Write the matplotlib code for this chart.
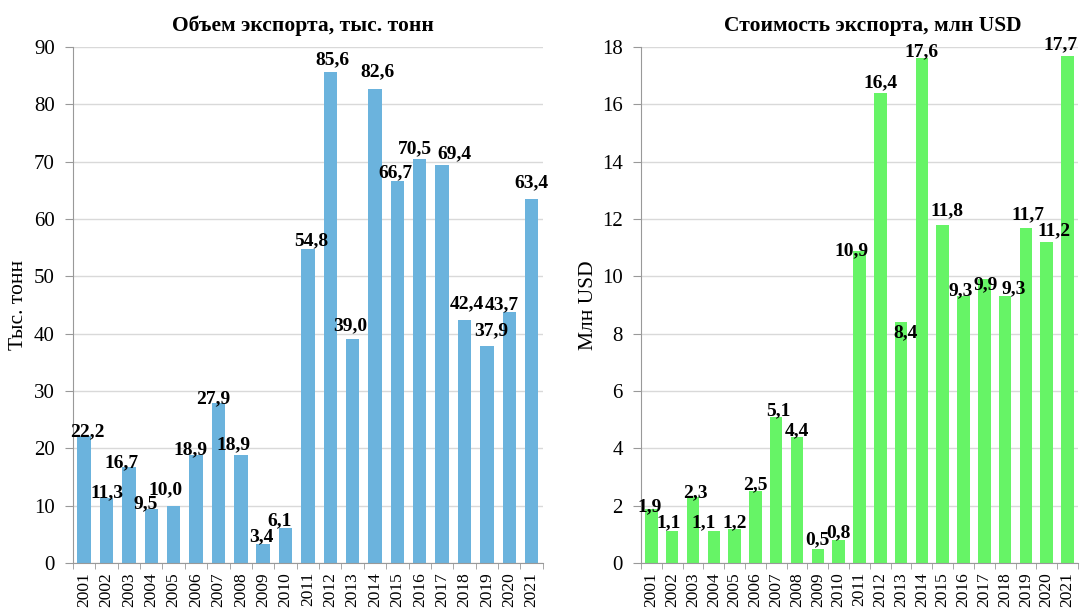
import matplotlib
matplotlib.use('Agg')
import matplotlib.pyplot as plt
import numpy as np

plt.rcParams['font.family'] = ['Liberation Serif', 'DejaVu Serif']

years = [str(y) for y in range(2001, 2022)]
volume = [22.2, 11.3, 16.7, 9.5, 10.0, 18.9, 27.9, 18.9, 3.4, 6.1, 54.8,
          85.6, 39.0, 82.6, 66.7, 70.5, 69.4, 42.4, 37.9, 43.7, 63.4]
value = [1.9, 1.1, 2.3, 1.1, 1.2, 2.5, 5.1, 4.4, 0.5, 0.8, 10.9,
         16.4, 8.4, 17.6, 11.8, 9.3, 9.9, 9.3, 11.7, 11.2, 17.7]

# label nudges in pixels (dx, dy), like excel put them
volume_nudge = [(3, 0), (0, 1), (-7, 0), (-6, 0), (-8, 11), (-6, 0), (-5, 0),
                (-7, 5), (-2, 2), (-6, 3), (3, 4), (2, 8), (-2, 9), (2, 13),
                (-2, 3), (-5, 6), (12, 7), (2, 12), (4, 10), (-7, 3), (0, 12)]
value_nudge = [(-2, -3), (-4, 4), (2, 0), (-10, 4), (0, 1), (0, 2), (2, 2),
               (0, 2), (0, 4), (0, 3), (-8, -5), (0, 6), (4, -15), (0, 2),
               (4, 9), (-3, 1), (1, -10), (9, 3), (2, 8), (7, 7), (-7, 6)]

fig = plt.figure(figsize=(10.8, 6.1), dpi=100)
ax1 = fig.add_axes([0.0676, 0.077, 0.435, 0.846])
ax2 = fig.add_axes([0.5935, 0.077, 0.4046, 0.846])

PX = 0.72  # points per pixel at 100 dpi


def draw(ax, data, nudge, color, ymax, step, title, title_x, ylabel, ylabel_x):
    x = np.arange(len(data))
    ax.bar(x, data, width=0.6, color=color, zorder=2)
    for xi, v, (dx, dy) in zip(x, data, nudge):
        ax.annotate(f'{v:.1f}'.replace('.', ','), (xi, v),
                    xytext=(dx * PX, dy * PX), textcoords='offset points',
                    ha='center', va='baseline', fontsize=14,
                    fontweight='bold', zorder=3, annotation_clip=False)
    ax.set_xlim(-0.5, len(data) - 0.5)
    ax.set_ylim(0, ymax)
    ax.set_yticks(np.arange(0, ymax + step / 2, step))
    ax.set_xticks(x)
    ax.set_xticklabels(years, rotation=90, fontsize=12.5)
    ax.set_xticks(np.arange(-0.5, len(data)), minor=True)
    ax.tick_params(axis='x', which='major', length=0, pad=6.5)
    ax.tick_params(axis='x', which='minor', length=4, color='#999999')
    ax.tick_params(axis='y', labelsize=15, length=6, pad=7, color='#999999')
    ax.grid(axis='y', color='#d9d9d9', linewidth=1, zorder=0)
    for s in ['top', 'right']:
        ax.spines[s].set_visible(False)
    for s in ['left', 'bottom']:
        ax.spines[s].set_color('#999999')
    ax.set_title(title, fontsize=15.5, fontweight='bold', pad=11.5, x=title_x)
    ax.set_ylabel(ylabel, fontsize=15.5, va='center')
    ax.yaxis.set_label_coords(ylabel_x, 0.5)


draw(ax1, volume, volume_nudge, '#6BB3DD', 90, 10,
     'Объем экспорта, тыс. тонн', 0.489, 'Тыс. тонн', -0.115)
draw(ax2, value, value_nudge, '#66F466', 18, 2,
     'Стоимость экспорта, млн USD', 0.53, 'Млн USD', -0.121)

fig.savefig('out.png', dpi=100)
